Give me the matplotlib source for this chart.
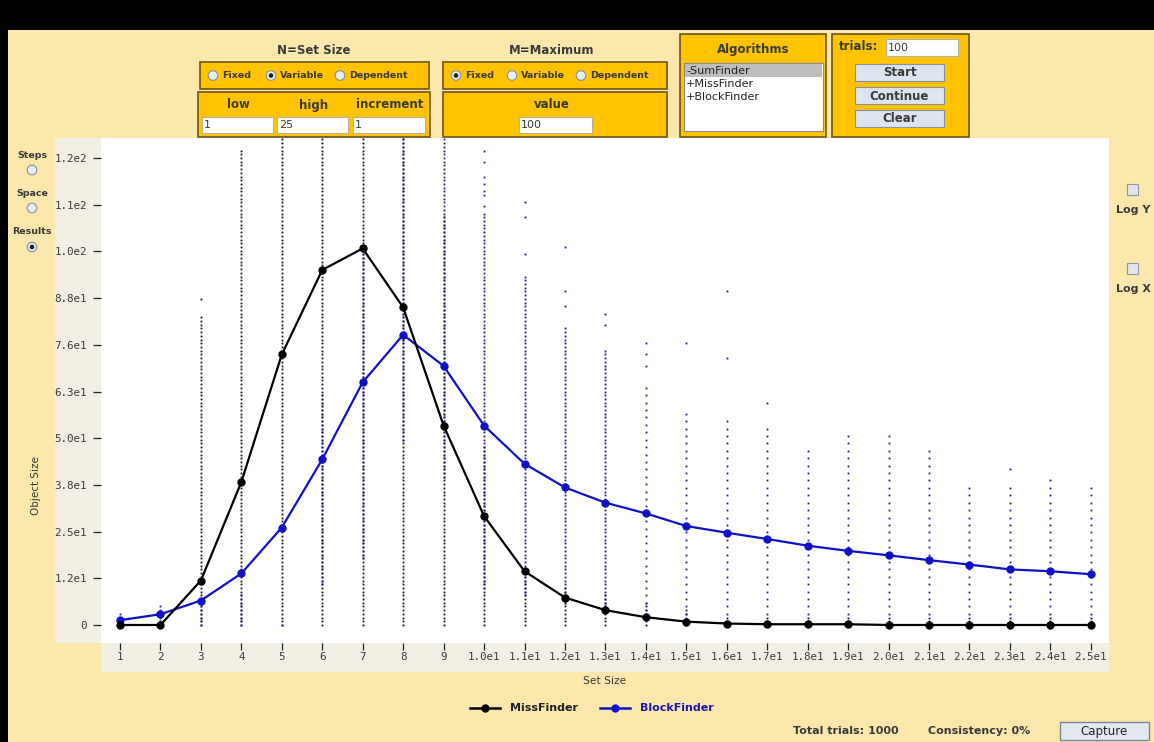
import matplotlib.pyplot as plt
from matplotlib.patches import Rectangle, Circle
from matplotlib.lines import Line2D

# set sizes on the x axis
set_size = [1, 2, 3, 4, 5, 6, 7, 8, 9, 10, 11, 12, 13,
            14, 15, 16, 17, 18, 19, 20, 21, 22, 23, 24, 25]
x_labels = ["1", "2", "3", "4", "5", "6", "7", "8", "9",
            "1.0e1", "1.1e1", "1.2e1", "1.3e1", "1.4e1", "1.5e1", "1.6e1",
            "1.7e1", "1.8e1", "1.9e1", "2.0e1", "2.1e1", "2.2e1", "2.3e1",
            "2.4e1", "2.5e1"]
y_ticks = [0, 12.6, 25.2, 37.8, 50.4, 63.0, 75.6, 88.2, 100.8, 113.4, 126.0]
y_labels = ["0", "1.2e1", "2.5e1", "3.8e1", "5.0e1", "6.3e1", "7.6e1",
            "8.8e1", "1.0e2", "1.1e2", "1.2e2"]

# average object size per set size
miss_avg = [0, 0, 12.0, 38.6, 73.0, 95.8, 101.6, 85.7, 53.8, 29.4, 14.5, 7.4, 4.0,
            2.1, 0.9, 0.4, 0.2, 0.2, 0.2, 0, 0, 0, 0, 0, 0]
block_avg = [1.3, 2.9, 6.6, 13.9, 26.3, 44.7, 65.5, 78.3, 69.9, 53.8, 43.5, 37.1, 33.0,
             30.1, 26.7, 24.9, 23.2, 21.4, 20.0, 18.8, 17.5, 16.3, 15.0, 14.5, 13.7]

# single trial results: dense run of values (lo..hi) plus a few stray ones
miss_lo = [0] * 25
miss_hi = [0, 1, 83, 128, 131, 131, 131, 131, 110, 48, 14, 10, 8,
           6, 4, 2, 2, 2, 2, 2, 2, 2, 2, 2, 2]
miss_extra = {3: [88]}
block_lo = [0, 0, 0, 0, 0, 11, 18, 50, 40, 10, 8, 6, 5,
            4, 3, 3, 3, 3, 3, 3, 3, 3, 3, 3, 3]
block_hi = [3, 5, 7, 8, 0, 62, 101, 131, 131, 111, 94, 80, 74,
            64, 58, 56, 54, 48, 52, 52, 48, 38, 38, 40, 38]
block_step = [1, 1, 1, 1, 1, 1, 1, 1, 1, 1, 1, 1, 1,
              2, 2, 2, 2, 2, 2, 2, 2, 2, 2, 2, 2]
block_extra = {10: [113, 116, 117, 119, 121, 125, 128], 11: [100, 110, 114],
               12: [86, 90, 102], 13: [81, 84], 14: [70, 73, 76], 15: [76],
               16: [72, 90], 17: [60], 23: [42]}

W, H = 1154, 742
BG = "#fce8ad"
GOLD = "#ffc300"
EDGE = "#6e5418"
TXT = "#3a3a3a"
BLUE = "#1010c8"
DOTBLUE = "#1c1c8a"

fig = plt.figure(figsize=(W / 100, H / 100), dpi=100)
fig.patch.set_facecolor(BG)

# pixel-space layer for the window furniture
ui = fig.add_axes([0, 0, 1, 1])
ui.set_xlim(0, W)
ui.set_ylim(H, 0)
ui.axis("off")


def box(x0, y0, x1, y1, fc, ec="none", lw=1.0, z=1):
    ui.add_patch(Rectangle((x0, y0), x1 - x0, y1 - y0, fc=fc, ec=ec, lw=lw, zorder=z))


def txt(x, y, s, size=8.5, weight="bold", ha="center", color=TXT, **kw):
    ui.text(x, y, s, fontsize=size, fontweight=weight, ha=ha, va="center",
            color=color, family="DejaVu Sans", zorder=5, **kw)


def radio(x, y, on, label):
    ui.add_patch(Circle((x, y), 4.8, fc="#e6edf5", ec="#8b919c", lw=0.8, zorder=3))
    if on:
        ui.add_patch(Circle((x, y), 2.3, fc="#1e1e1e", ec="none", zorder=4))
    if label:
        txt(x + 9, y, label, size=6.8, ha="left")


def field(x0, y0, x1, y1, s, ha="left"):
    box(x0, y0, x1, y1, "white", "#b9b39a", 0.8, z=2)
    if ha == "left":
        txt(x0 + 2, (y0 + y1) / 2 + 0.5, s, size=8, weight="normal", ha="left")
    else:
        txt((x0 + x1) / 2, (y0 + y1) / 2 + 0.5, s, size=8, weight="normal")


def button(x0, y0, x1, y1, s):
    box(x0, y0, x1, y1, "#dbe4ef", "#8893a3", 0.8, z=2)
    txt((x0 + x1) / 2, (y0 + y1) / 2 + 0.5, s, size=8.5)


# window frame
box(0, 0, W, 30, "black")
box(0, 0, 8, H, "black")

# N = set size controls
txt(314, 50, "N=Set Size")
box(200, 62, 429, 89, GOLD, EDGE, 1.2)
radio(213, 75.5, False, "Fixed")
radio(271, 75.5, True, "Variable")
radio(340, 75.5, False, "Dependent")
box(198, 92, 430, 137, GOLD, EDGE, 1.2)
txt(238, 105, "low")
txt(314, 105, "high")
txt(390, 105, "increment")
field(202, 117, 273, 133, "1")
field(277, 117, 348, 133, "25")
field(353, 117, 425, 133, "1")

# M = maximum controls
txt(552, 50, "M=Maximum")
box(443, 62, 667, 89, GOLD, EDGE, 1.2)
radio(456, 75.5, True, "Fixed")
radio(512, 75.5, False, "Variable")
radio(581, 75.5, False, "Dependent")
box(443, 92, 667, 137, GOLD, EDGE, 1.2)
txt(552, 105, "value")
field(519, 117, 592, 133, "100")

# algorithm list
box(680, 34, 826, 137, GOLD, EDGE, 1.2)
txt(753, 49, "Algorithms")
box(684, 63, 823, 131, "white", "#8a8a8a", 0.8, z=2)
box(685, 64, 822, 77, "#bdbdbd", z=3)
for i, name in enumerate(["-SumFinder", "+MissFinder", "+BlockFinder"]):
    txt(686, 70.5 + 13.5 * i, name, size=8, weight="normal", ha="left", color="#222222")

# trial controls
box(832, 34, 969, 137, GOLD, EDGE, 1.2)
txt(839, 47, "trials:", ha="left")
field(886, 39, 958, 56, "100")
button(855, 64, 944, 81, "Start")
button(855, 87, 944, 104, "Continue")
button(855, 110, 944, 127, "Clear")

# measure selector on the left
for lbl, yl, yr, on in [("Steps", 155, 170, False), ("Space", 193, 208, False),
                        ("Results", 231, 247, True)]:
    txt(32, yl, lbl, size=6.8)
    radio(32, yr, on, None)

# log scale checkboxes on the right
for lbl, yc, yl in [("Log Y", 189, 210), ("Log X", 268, 289)]:
    box(1127, yc - 5.5, 1138, yc + 5.5, "#dfe6ef", "#9199a8", 0.8, z=2)
    txt(1133, yl, lbl, size=8)

# grey frame round the plot area (left strip and tick strip)
box(55, 138, 101, 643, "#f1eee4")
box(101, 643, 1109, 672, "#f1eee4")

# axis titles
txt(36, 486, "Object Size", size=7.5, weight="normal", rotation=90)
txt(605, 681, "Set Size", size=7.7, weight="normal")

# legend
ui.add_line(Line2D([470, 500], [708, 708], color="black", lw=1.8, zorder=4))
ui.plot([485], [708], "o", color="black", ms=5, zorder=5)
txt(510, 708, "MissFinder", size=8, ha="left", color="#222222")
ui.add_line(Line2D([600, 630], [708, 708], color=BLUE, lw=1.8, zorder=4))
ui.plot([615], [708], "o", color=BLUE, ms=5, zorder=5)
txt(640, 708, "BlockFinder", size=8, ha="left", color="#1818b0")

# status bar
txt(793, 731, "Total trials: 1000", size=8, ha="left")
txt(928, 731, "Consistency: 0%", size=8, ha="left")
box(1060, 722, 1149, 740, "#e3e9f1", "#7c8594", 1.0, z=2)
txt(1104, 731.5, "Capture", size=8.5, weight="normal", color="#222222")

# results plot
ax = fig.add_axes([101 / W, 1 - 643 / H, (1109 - 101) / W, (643 - 138) / H])
ax.set_facecolor("white")
ax.set_xlim(0.53, 25.45)
ax.set_ylim(-4.86, 131.4)
for s in ax.spines.values():
    s.set_visible(False)

# every trial outcome as a small dot
for i, n in enumerate(set_size):
    vals = list(range(miss_lo[i], miss_hi[i] + 1)) + miss_extra.get(n, [])
    ax.plot([n] * len(vals), vals, "s", color="#111111", ms=1.3, mew=0, zorder=2)
for i, n in enumerate(set_size):
    vals = list(range(block_lo[i], block_hi[i] + 1, block_step[i])) + block_extra.get(n, [])
    ax.plot([n] * len(vals), vals, "s", color=DOTBLUE, ms=1.3, mew=0, zorder=3)

ax.plot(set_size, block_avg, "-o", color=BLUE, lw=1.6, ms=5, zorder=4)
ax.plot(set_size, miss_avg, "-o", color="black", lw=1.6, ms=5, zorder=5)

ax.set_xticks(set_size)
ax.set_xticklabels(x_labels)
ax.set_yticks(y_ticks)
ax.set_yticklabels(y_labels)
ax.tick_params(axis="both", colors="#222222", labelcolor=TXT, width=0.9)
ax.tick_params(axis="y", length=6, pad=4)
ax.tick_params(axis="x", length=5, pad=1.5)
for lab in ax.get_xticklabels() + ax.get_yticklabels():
    lab.set_family("DejaVu Sans Mono")
    lab.set_fontsize(7.8)

fig.savefig("out.png", dpi=100, facecolor=BG)
